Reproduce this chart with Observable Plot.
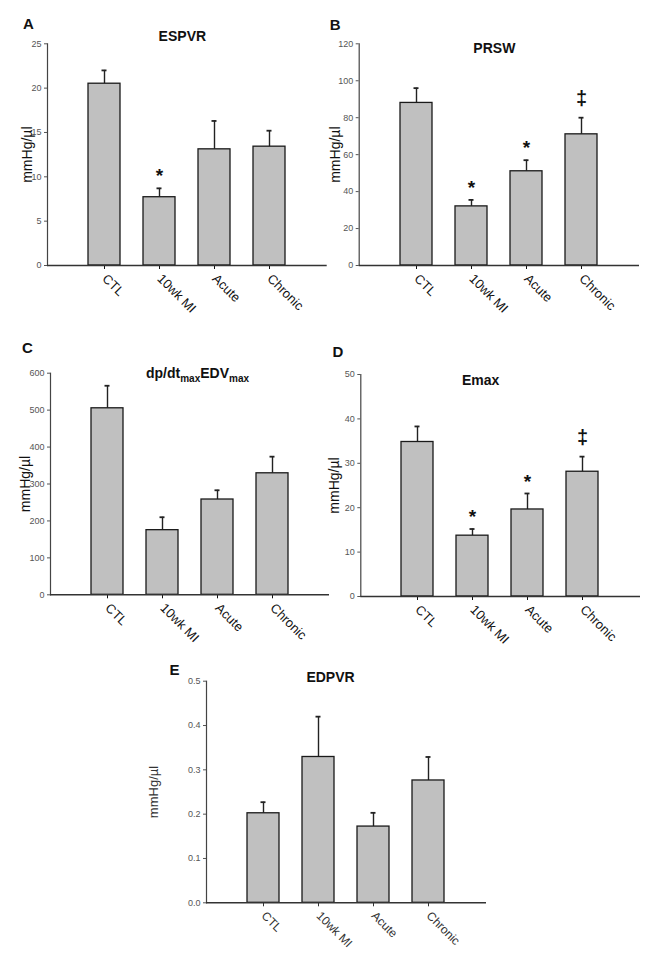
<!DOCTYPE html>
<html><head><meta charset="utf-8">
<script src="https://cdn.jsdelivr.net/npm/d3@7"></script>
<script src="https://cdn.jsdelivr.net/npm/@observablehq/plot@0.6"></script>
<style>
body{margin:0;background:#fff;}
#wrap{position:relative;width:654px;height:976px;overflow:hidden;background:#fff;font-family:"Liberation Sans",Arial,sans-serif;}
#wrap svg{position:absolute;overflow:visible;}
</style></head><body><div id="wrap"></div>
<script>
// ---- data ----
const categories = ["CTL", "10wk MI", "Acute", "Chronic"];

const espvrMean = [20.5, 7.7, 13.1, 13.4];
const espvrSem  = [1.5, 1.0, 3.2, 1.8];
const espvrMarks = ["", "*", "", ""];
const espvrTicks = [0, 5, 10, 15, 20, 25];

const prswMean = [88, 32, 51, 71];
const prswSem  = [8, 3.5, 6, 9];
const prswMarks = ["", "*", "*", "‡"];
const prswTicks = [0, 20, 40, 60, 80, 100, 120];

const dpdtMean = [505, 175, 258, 329];
const dpdtSem  = [61, 35, 25, 45];
const dpdtMarks = ["", "", "", ""];
const dpdtTicks = [0, 100, 200, 300, 400, 500, 600];

const emaxMean = [34.8, 13.7, 19.6, 28.1];
const emaxSem  = [3.5, 1.5, 3.6, 3.4];
const emaxMarks = ["", "*", "*", "‡"];
const emaxTicks = [0, 10, 20, 30, 40, 50];

const edpvrMean = [0.202, 0.329, 0.172, 0.276];
const edpvrSem  = [0.025, 0.091, 0.031, 0.053];
const edpvrMarks = ["", "", "", ""];
const edpvrTicks = [0, 0.1, 0.2, 0.3, 0.4, 0.5];

const yTitle = "mmHg/µl";
const FONT = "Liberation Sans, Arial, sans-serif";

function panel(o) {
  const rows = categories.map((c, i) => ({cat: c, mean: o.mean[i], top: o.mean[i] + o.sem[i], mark: o.marks[i]}));
  const chart = Plot.plot({
    width: o.width, height: o.height,
    marginLeft: o.ml, marginRight: o.mr, marginTop: o.mt, marginBottom: o.mb,
    style: {background: "transparent", overflow: "visible", fontFamily: FONT, color: "#111"},
    x: {domain: categories, paddingInner: 0.41, paddingOuter: 0.71, align: 0.5, label: null},
    y: {domain: [0, o.ticks[o.ticks.length - 1]], label: null},
    marks: [
      Plot.ruleX(rows, {x: "cat", y1: "mean", y2: "top", stroke: "#222", strokeWidth: 1.4}),
      Plot.tickY(rows, {x: "cat", y: "top", stroke: "#222", strokeWidth: 1.8, inset: 13.5}),
      Plot.barY(rows, {x: "cat", y: "mean", fill: "#c0c0c0", stroke: "#1a1a1a", strokeWidth: 1.3}),
      Plot.frame({anchor: "left", stroke: "#444", strokeWidth: 1.2}),
      Plot.axisY({ticks: o.ticks, tickFormat: o.fmt, tickSize: 3, tickPadding: 3, fontSize: 9, color: "#555", label: null}),
      Plot.axisX({tickSize: 4, tickPadding: 7, tickRotate: 45, fontSize: o.xfs || 13, color: o.xcolor || "#111", label: null}),
      Plot.ruleY([0], {stroke: "#333", strokeWidth: 1.5}),
      Plot.text(rows.filter(d => d.mark === "*"), {x: "cat", y: "top", text: "mark", dy: -12, fontSize: 19, fontWeight: "bold", fill: "#111"}),
      Plot.text(rows.filter(d => d.mark === "‡"), {x: "cat", y: "top", text: "mark", dy: -19, fontSize: 20, fontWeight: "bold", fill: "#111"}),
      Plot.text([o.title], {frameAnchor: "top", dx: o.tdx, dy: o.tdy, fontSize: 14, fontWeight: "bold", textAnchor: "middle", lineAnchor: "middle", fill: "#111"}),
      Plot.text([o.letter], {frameAnchor: "top-left", dx: o.ldx, dy: o.ldy, fontSize: 15, fontWeight: "bold", textAnchor: "middle", lineAnchor: "middle", fill: "#111"}),
      Plot.text([yTitle], {frameAnchor: "left", dx: o.ydx, rotate: -90, fontSize: o.yfs || 14, textAnchor: "middle", lineAnchor: "middle", fill: o.ycolor || "#111"})
    ]
  });
  chart.style.left = o.left + "px";
  chart.style.top = o.top + "px";
  document.getElementById("wrap").appendChild(chart);
  return chart;
}

panel({letter: "A", title: "ESPVR", mean: espvrMean, sem: espvrSem, marks: espvrMarks, ticks: espvrTicks,
  left: 0, top: 0, width: 327, height: 330, ml: 47, mr: 0.3, mt: 43.3, mb: 65,
  tdx: -5, tdy: -7, ldx: -19, ldy: -19.3, ydx: -20});

panel({letter: "B", title: "PRSW", mean: prswMean, sem: prswSem, marks: prswMarks, ticks: prswTicks,
  left: 327, top: 0, width: 327, height: 330, ml: 31.7, mr: 15, mt: 43.3, mb: 65,
  tdx: -5, tdy: 5, ldx: -24, ldy: -19, ydx: -24});

const cChart = panel({letter: "C", title: "dp/dtmaxEDVmax", mean: dpdtMean, sem: dpdtSem, marks: dpdtMarks, ticks: dpdtTicks,
  left: 0, top: 320, width: 330, height: 330, ml: 50, mr: 1, mt: 52.7, mb: 55.7,
  tdx: 7.5, tdy: 0, ldx: -23, ldy: -25, ydx: -25});

panel({letter: "D", title: "Emax", mean: emaxMean, sem: emaxSem, marks: emaxMarks, ticks: emaxTicks,
  left: 327, top: 320, width: 327, height: 330, ml: 33.3, mr: 14, mt: 54, mb: 54,
  tdx: -20, tdy: 6, ldx: -23, ldy: -22, ydx: -26});

panel({letter: "E", title: "EDPVR", mean: edpvrMean, sem: edpvrSem, marks: edpvrMarks, ticks: edpvrTicks, fmt: d3.format(".1f"),
  left: 130, top: 650, width: 370, height: 326, ml: 76, mr: 14, mt: 30.7, mb: 73.7,
  tdx: -16, tdy: -4, ldx: -32, ldy: -11, ydx: -53, xfs: 12, xcolor: "#333", yfs: 13, ycolor: "#333"});

// subscripts in panel C title
d3.select(cChart).selectAll("text").filter(function () { return this.textContent === "dp/dtmaxEDVmax"; })
  .each(function () {
    const t = d3.select(this);
    t.text(null);
    t.append("tspan").text("dp/dt");
    t.append("tspan").attr("dy", 4).attr("font-size", 10).text("max");
    t.append("tspan").attr("dy", -4).text("EDV");
    t.append("tspan").attr("dy", 4).attr("font-size", 10).text("max");
  });
</script>
</body></html>
